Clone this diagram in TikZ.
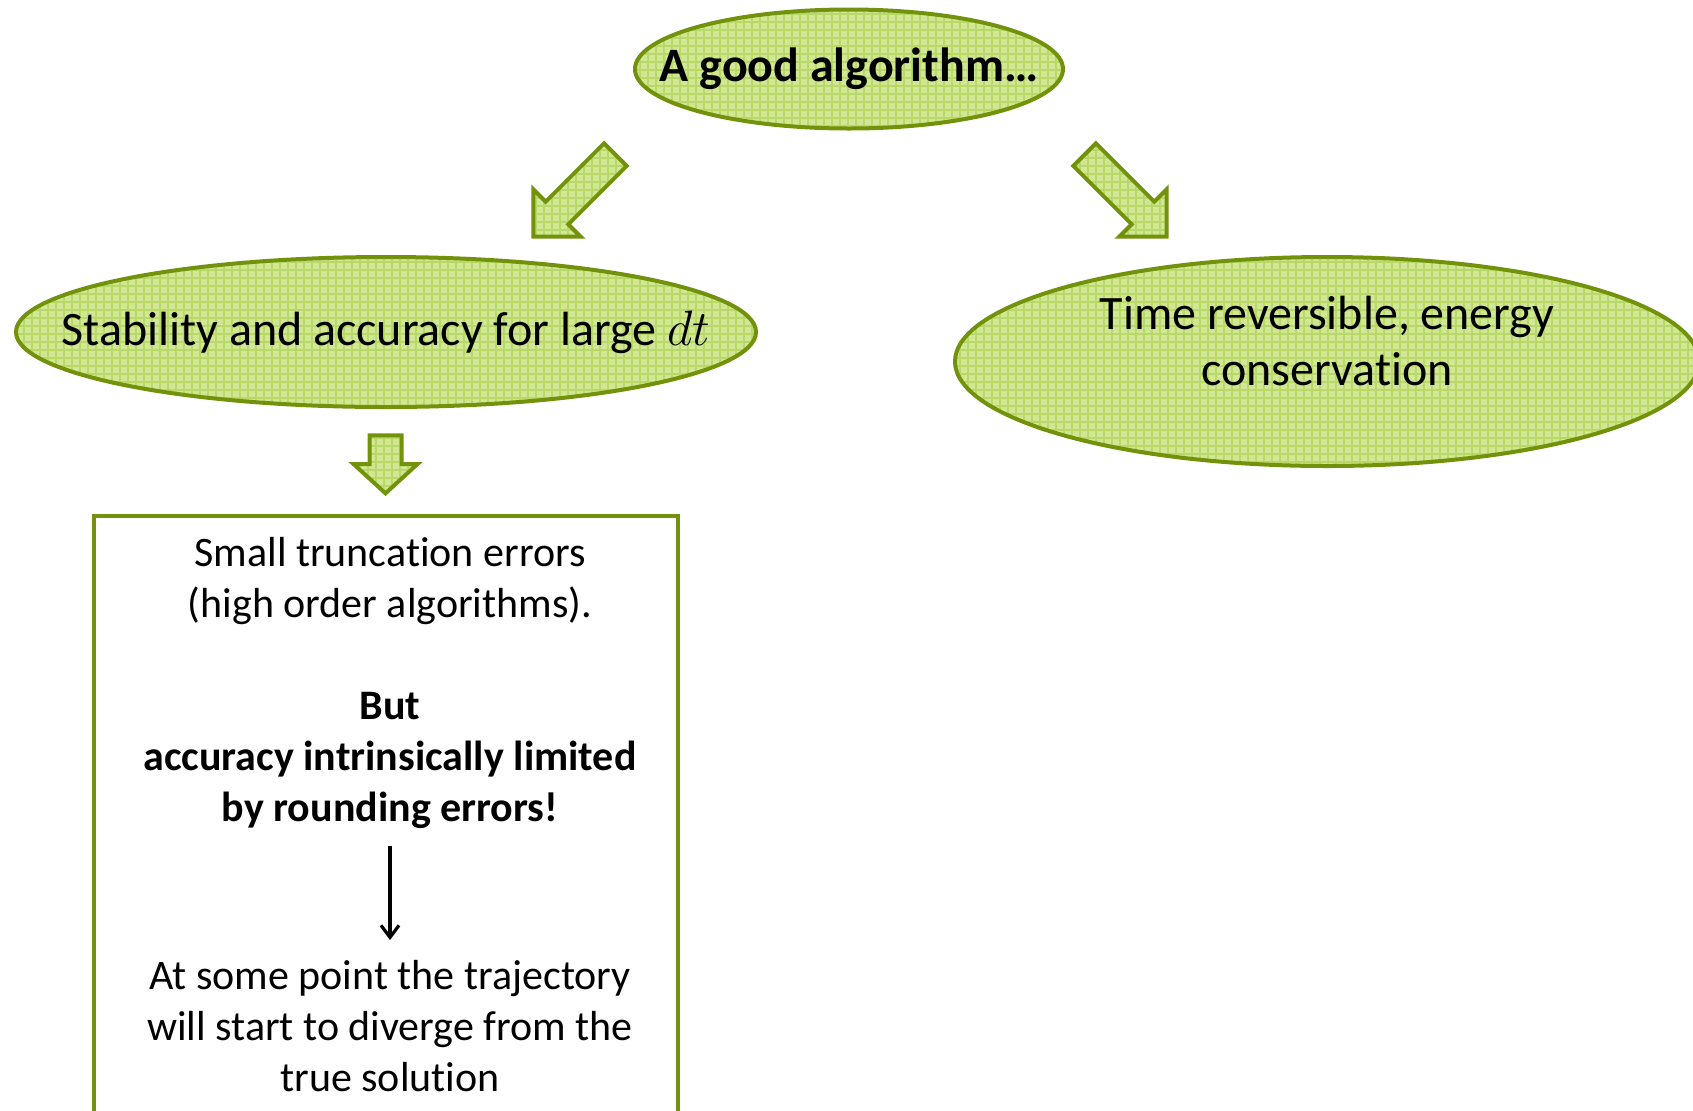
\documentclass[tikz,border=0pt]{standalone}
\usepackage{fontspec}
\setmainfont{Carlito}[Ligatures=NoCommon]
\usetikzlibrary{shapes.geometric, shapes.arrows, arrows.meta, positioning, patterns.meta}
\definecolor{leafline}{HTML}{73920C}
\definecolor{leaffill}{HTML}{D1E794}
\definecolor{leafgrid}{HTML}{B9D86A}

\tikzdeclarepattern{
	name=leafcheck,
	type=uncolored,
	tile size={(4pt,4pt)},
	bottom left={(-0.5pt,-0.5pt)},
	top right={(4.5pt,4.5pt)},
	code={
			\draw[line width=0.7pt] (0,0) -- (4pt,0) (0,0) -- (0,4pt);
		}
}

\tikzset{
	ovalnode/.style={
			ellipse,
			draw=leafline,
			line width=2pt,
			preaction={fill=leaffill},
			pattern=leafcheck,
			pattern color=leafgrid,
			inner ysep=0pt,
			align=center,
			font=\fontsize{24}{28}\selectfont
		},
	blockarrow/.style={
			single arrow,
			draw=leafline,
			line width=2pt,
			preaction={fill=leaffill},
			pattern=leafcheck,
			pattern color=leafgrid,
			inner xsep=0pt,
			minimum width=0pt,
			single arrow tip angle=90
		},
	textbox/.style={
			rectangle,
			draw=leafline,
			line width=2pt,
			minimum width=292pt,
			minimum height=320pt
		},
	boxtext/.style={
			align=center,
			inner sep=0pt,
			anchor=north,
			font=\fontsize{21}{25.4}\selectfont
		}
}

\begin{document}
\begin{tikzpicture}[x=0.5pt, y=-0.5pt]
\useasboundingbox (0,0) rectangle (1693,1110);
\clip (0,0) rectangle (1693,1110);

\node[ovalnode, inner xsep=-80pt, minimum width=214pt, minimum height=59.5pt, font=\bfseries\fontsize{24}{28}\selectfont] (algo) at (849,69) {A good algorithm…};
\node[ovalnode, inner xsep=-150pt, minimum width=370pt, minimum height=75pt] (stab) at (386,332) {Stability and accuracy for large $dt$};
\node[ovalnode, inner xsep=-100pt, minimum width=372pt, minimum height=104.5pt, text depth=21pt] (rev) at (1327,361.5) {Time reversible, energy\\ conservation};

\node[blockarrow, rotate=225, inner ysep=7pt, single arrow head extend=8.75pt, minimum height=58pt] (arrL) at (580,190) {};
\node[blockarrow, rotate=-45, inner ysep=7pt, single arrow head extend=8.75pt, minimum height=58pt] (arrR) at (1120,190) {};
\node[blockarrow, rotate=-90, inner ysep=7pt, single arrow head extend=8pt, single arrow tip angle=95, minimum height=29pt] (arrD) at (385.5,457) {};

\node[textbox] (box) at (386,836) {};

\node[boxtext] (trunc) at (390,537) {Small truncation errors\\ (high order algorithms).};
\node[boxtext, font=\bfseries\fontsize{21}{25.4}\selectfont] (but) at (390,692) {But\\ accuracy intrinsically limited\\ by rounding errors!};
\node[boxtext] (diverge) at (390,960) {At some point the trajectory\\ will start to diverge from the\\ true solution};

\draw[line width=1.6pt, -{Straight Barb[length=6pt,width=9pt]}, shorten <=8.5pt, shorten >=10pt] (but) -- (diverge);
\end{tikzpicture}
\end{document}
